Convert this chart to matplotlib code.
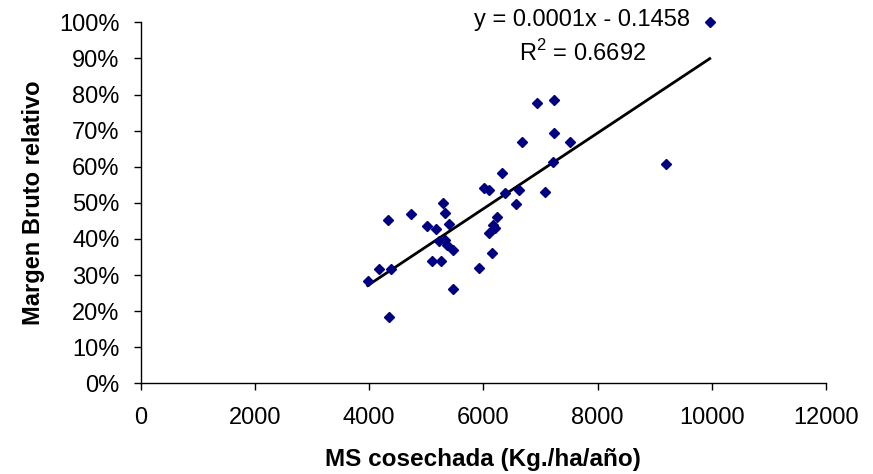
import numpy as np
import matplotlib
matplotlib.use("Agg")
import matplotlib.pyplot as plt
from matplotlib.ticker import PercentFormatter

plt.rcParams['font.family'] = ['Liberation Sans', 'DejaVu Sans']
plt.rcParams['mathtext.fontset'] = 'custom'
plt.rcParams['mathtext.rm'] = 'Liberation Sans'

# MS cosechada (kg/ha/año) vs margen bruto relativo
ms_cosechada = [9965, 9207, 7510, 7241, 6943, 7241, 6670, 7213, 7078, 6320,
                6016, 6103, 6378, 6623, 6570, 6243, 6173, 6203, 6103, 6156,
                5923, 5298, 5328, 4733, 4336, 5008, 5171, 5403, 5228, 5328,
                5358, 5463, 5106, 5253, 4173, 4383, 3976, 5463, 4353]
margen_bruto = [1.000, 0.607, 0.668, 0.785, 0.777, 0.694, 0.669, 0.614, 0.531, 0.582,
                0.540, 0.535, 0.526, 0.535, 0.498, 0.461, 0.439, 0.429, 0.416, 0.362,
                0.319, 0.499, 0.473, 0.469, 0.452, 0.436, 0.427, 0.441, 0.394, 0.397,
                0.383, 0.369, 0.340, 0.340, 0.316, 0.316, 0.284, 0.261, 0.183]

eq_text = "y = 0.0001x - 0.1458"
r2_text = "R$^2$ = 0.6692"

W, H = 873, 474
fig = plt.figure(figsize=(W / 100, H / 100), dpi=100)
ax = fig.add_axes([140.5 / W, 1 - 383.3 / H, (826 - 140.5) / W, (383.3 - 22.3) / H])

x = np.array(ms_cosechada)
y = np.array(margen_bruto)

# linear trendline
m, b = np.polyfit(x, y, 1)
xl = np.array([x.min(), x.max()])
ax.plot(xl, m * xl + b, color='black', lw=2.0, zorder=2)

ax.plot(x, y, 'D', color='#000080', ms=5.2, mec='#000080', zorder=3, clip_on=False)

ax.set_xlim(0, 12000)
ax.set_ylim(0, 1.0)
ax.set_xticks(np.arange(0, 12001, 2000))
ax.set_yticks(np.arange(0, 1.01, 0.1))
ax.yaxis.set_major_formatter(PercentFormatter(1.0, decimals=0))

for s in ['top', 'right']:
    ax.spines[s].set_visible(False)
for s in ['left', 'bottom']:
    ax.spines[s].set_linewidth(1.0)

ax.tick_params(axis='both', direction='out', length=5, width=1.0, labelsize=17)
ax.tick_params(axis='y', pad=10)
ax.tick_params(axis='x', pad=12)

ax.set_xlabel("MS cosechada (Kg./ha/año)", fontsize=17.5, fontweight='bold', labelpad=14)
ax.set_ylabel("Margen Bruto relativo", fontsize=17, fontweight='bold', labelpad=10)

fig.text(581.7 / W, 1 - 26 / H, eq_text, fontsize=17, ha='center', va='baseline')
fig.text(582.5 / W, 1 - 61 / H, r2_text, fontsize=17, ha='center', va='baseline')

fig.savefig("out.png", dpi=100)
